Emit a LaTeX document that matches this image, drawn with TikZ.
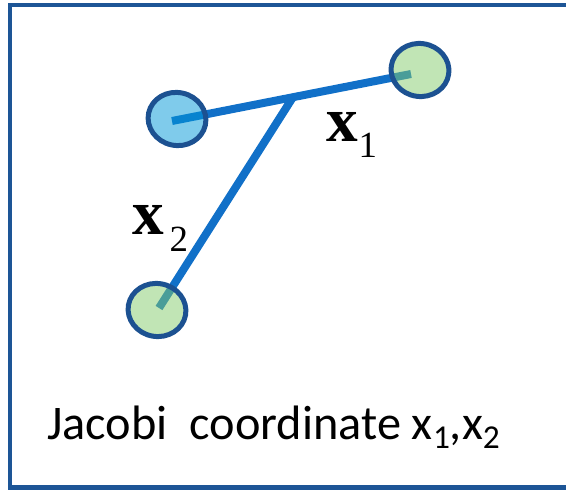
\documentclass[tikz,border=0pt]{standalone}
\usepackage{fontspec}
\setmainfont{Liberation Serif}
\newfontfamily\labelfont{Carlito}
\usetikzlibrary{shapes.geometric,calc,positioning}
\definecolor{Frame}{HTML}{1D5596}
\definecolor{Rim}{HTML}{1C5191}
\definecolor{Bond}{HTML}{1170C8}
\definecolor{AtomBlue}{HTML}{0097D7}
\definecolor{AtomGreen}{HTML}{83CB6B}
\newcommand{\capsub}[1]{\raisebox{-0.2cm}{\fontsize{19}{19}\selectfont #1}}

\begin{document}
\begin{tikzpicture}[
  x=0.02cm,y=-0.02cm,
  frame/.style={draw=Frame,line width=0.1cm},
  bond/.style={draw=Bond,line width=0.16cm},
  atom/.style={ellipse,draw=Rim,line width=0.1cm,fill opacity=0.5,draw opacity=1,minimum width=1.16cm,minimum height=1.06cm,inner sep=0pt},
  vec/.style={font=\fontsize{36}{36}\selectfont\bfseries,inner sep=0pt,anchor=base west},
  sub/.style={font=\fontsize{21}{21}\selectfont,inner sep=0pt,anchor=base west}
]
\useasboundingbox (0,0) rectangle (566,490);
\draw[frame] (10,5) rectangle (600,488);
% bond ends
\coordinate (p1) at (172,121);
\coordinate (p2) at (411,74);
\coordinate (p3) at (159,308);
\coordinate (mid) at ($(p1)!0.506!(p2)$);
\draw[bond] (p1) -- (p2);
\draw[bond] (mid) -- (p3);
% particles
\node[atom,fill=AtomBlue,rotate=-12] (left) at (177,119) {};
\node[atom,fill=AtomGreen,rotate=-8] (right) at (420,70) {};
\node[atom,fill=AtomGreen,rotate=-10] (low) at (157,310) {};
% labels
\node[vec] (xa) at (326,142) {x};
\node[sub,right=0pt of xa.base east,anchor=base west,yshift=-0.32cm] (ia) {1};
\node[vec] (xb) at (132,235) {x};
\node[sub,right=0pt of xb.base east,anchor=base west,yshift=-0.34cm,xshift=0.1cm] (ib) {2};
\node[font=\labelfont\fontsize{27.5}{27.5}\selectfont,anchor=base west,inner sep=0pt] (cap) at (47,439) {Jacobi\ \ coordinate x\capsub{1},x\capsub{2}};
\end{tikzpicture}
\end{document}
